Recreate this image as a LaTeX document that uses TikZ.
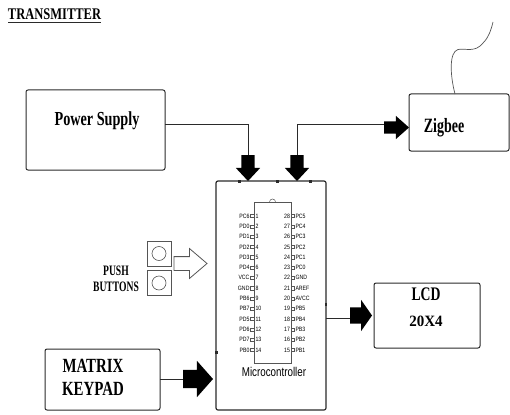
\documentclass[tikz,border=0pt]{standalone}
\usepackage{fontspec}
\setmainfont{Liberation Serif}
\setsansfont{Liberation Sans}
\usepackage{xcolor}
\usetikzlibrary{shapes.arrows}
\definecolor{bdark}{HTML}{2a2a2a}
\definecolor{bgray}{HTML}{555555}
\newcommand{\tallbf}[3]{\scalebox{1}[#2]{\fontsize{#1}{#1}\selectfont\bfseries #3}}
\newcommand{\tallsf}[3]{\scalebox{1}[#2]{\fontsize{#1}{#1}\selectfont\sffamily #3}}
\tikzset{
	blockbox/.style={draw=bdark, line width=1pt, rounded corners=2, inner sep=0, outer sep=0},
	wire/.style={draw=bdark, line width=.8pt},
	solidarrow/.style={single arrow, fill=black, draw=none, inner xsep=0, outer sep=0, single arrow head indent=0},
	hollowarrow/.style={single arrow, fill=white, draw=bgray, line width=.8pt, inner xsep=0, outer sep=0, single arrow head indent=0},
	btnbox/.style={draw=bgray, line width=.7pt, inner sep=0, outer sep=0, minimum width=24, minimum height=25},
	btnring/.style={circle, draw=bgray, line width=.6pt, inner sep=0, minimum size=14},
	txt/.style={inner sep=0, outer sep=0, text=black},
	pinsq/.style={draw=bgray, line width=.35pt, inner sep=0, outer sep=0, minimum size=3.2},
}
\begin{document}
\begin{tikzpicture}[x=1pt, y=-1pt]
	\useasboundingbox (0,0) rectangle (510,414);

	\node[txt, anchor=south west] (title) at (8,20) {\tallbf{12.5}{1.3}{TRANSMITTER}};
	\draw[draw=bdark, line width=.8pt] ([yshift=-2]title.south west) -- ([yshift=-2]title.south east);

	\node[blockbox, minimum width=139, minimum height=80] (supply) at (95.5,130) {};
	\node[blockbox, minimum width=100, minimum height=57] (zigbee) at (459,122.5) {};
	\node[blockbox, minimum width=106, minimum height=65] (lcd) at (427,315.5) {};
	\node[blockbox, minimum width=115, minimum height=61] (keypad) at (102.5,379.5) {};
	\node[blockbox, line width=1.2pt, minimum width=110, minimum height=229] (mcu) at (271,295.5) {};
	\node[draw=bgray, line width=.6pt, inner sep=0, outer sep=0, minimum width=37, minimum height=161] (chip) at (272.5,282.5) {};
	\draw[draw=bgray, line width=.5pt] ([xshift=-3]chip.north) arc (180:360:3);

	\node[txt] (supplytxt) at (97,121) {\tallbf{14.2}{1.4}{Power Supply}};
	\node[txt] (zigbeetxt) at (444,128) {\tallbf{14}{1.45}{Zigbee}};
	\node[txt] (lcdtxt) at (426,294) {\tallbf{13.7}{1.4}{LCD}};
	\node[txt] (sizetxt) at (426,321) {\tallbf{15}{1.05}{20X4}};
	\node[txt] (matrixtxt) at (93,365.5) {\tallbf{14.9}{1.35}{MATRIX}};
	\node[txt] (keypadtxt) at (93,388.5) {\tallbf{14.9}{1.35}{KEYPAD}};
	\node[txt] (pushtxt) at (116,271) {\tallbf{9.6}{1.5}{PUSH}};
	\node[txt] (buttonstxt) at (116,287) {\tallbf{9.6}{1.5}{BUTTONS}};
	\node[txt] (mcutxt) at (274,372) {\tallsf{9.8}{1.3}{Microcontroller}};

	\foreach \pname [count=\pnum] in {PC6,PD0,PD1,PD2,PD3,PD4,VCC,GND,PB6,PB7,PD5,PD6,PD7,PB0} {
		\node[pinsq] (lsq\pnum) at (252.2,{216+(\pnum-1)*10.3}) {};
		\node[txt, anchor=east] (lname\pnum) at (249.5,{216+(\pnum-1)*10.3}) {\tallsf{5.2}{1.2}{\pname}};
		\node[txt, anchor=west] (lnum\pnum) at (255.5,{216+(\pnum-1)*10.3}) {\tallsf{5.2}{1.2}{\pnum}};
	}
	\foreach \pname [count=\pnum, evaluate=\pnum as \rnum using int(29-\pnum)] in {PC5,PC4,PC3,PC2,PC1,PC0,GND,AREF,AVCC,PB5,PB4,PB3,PB2,PB1} {
		\node[pinsq] (rsq\pnum) at (292.8,{216+(\pnum-1)*10.3}) {};
		\node[txt, anchor=west] (rname\pnum) at (295.5,{216+(\pnum-1)*10.3}) {\tallsf{5.2}{1.2}{\pname}};
		\node[txt, anchor=east] (rnum\pnum) at (290,{216+(\pnum-1)*10.3}) {\tallsf{5.2}{1.2}{\rnum}};
	}

	\foreach \bx in {239,277,310} {
		\fill[bdark] (\bx-1.5,180) rectangle (\bx+1.5,182.5);
	}
	\fill[bdark] (214.5,351) rectangle (217.5,354);
	\fill[bdark] (325,303) rectangle (327,306);

	\node[solidarrow, rotate=-90, anchor=tip, inner ysep=6.5, minimum height=26, single arrow head extend=5.5, single arrow tip angle=86] (pwrarrow) at (248,181) {};
	\node[solidarrow, rotate=-90, anchor=tip, inner ysep=6.5, minimum height=26, single arrow head extend=5.5, single arrow tip angle=86] (zigdown) at (297,181) {};
	\node[solidarrow, anchor=tip, inner ysep=6, minimum height=25, single arrow head extend=5.5, single arrow tip angle=83] (zigarrow) at (409,127.5) {};
	\node[solidarrow, anchor=tip, inner ysep=8, minimum height=22, single arrow head extend=7.5, single arrow tip angle=110] (lcdarrow) at (372,315.5) {};
	\node[solidarrow, anchor=tip, inner ysep=9, minimum height=30, single arrow head extend=9, single arrow tip angle=97] (kparrow) at (213,379) {};
	\node[hollowarrow, anchor=tip, inner ysep=6.5, minimum height=33, single arrow head extend=8, single arrow tip angle=81] (btnarrow) at (207,263.5) {};

	\draw[wire] ([yshift=6]supply.east) -| (pwrarrow.tail);
	\draw[wire] (zigdown.tail) |- ([yshift=3.5]zigarrow.tail);
	\draw[wire] ([yshift=-2.5]lcdarrow.tail) -- ([yshift=-2.5]lcdarrow.tail -| mcu.east);
	\draw[wire] (keypad.east |- kparrow.tail) -- (kparrow.tail);

	\node[btnbox] (btnA) at (159,253.5) {};
	\node[btnbox] (btnB) at (159,283) {};
	\node[btnring] (ringA) at (btnA) {};
	\node[btnring] (ringB) at (btnB) {};

	\coordinate (anttip) at (493,22);
	\draw[draw=bgray, line width=.7pt] ([xshift=-4]zigbee.north) .. controls (450,75) and (449,52) .. (458,49.5) .. controls (466,48) and (475,53) .. (483,43) .. controls (489,37) and (491,30) .. (anttip);
\end{tikzpicture}
\end{document}
